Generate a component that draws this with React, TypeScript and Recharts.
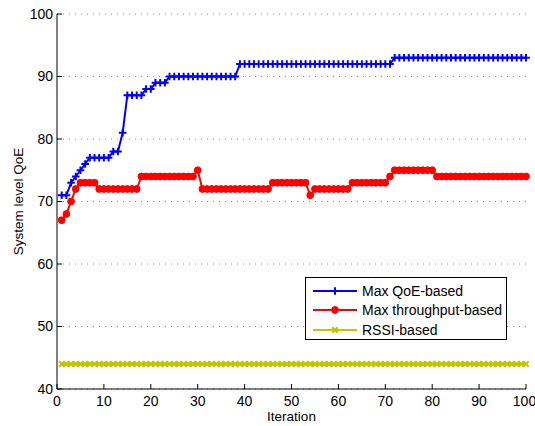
import { CartesianGrid, Legend, Line, LineChart, XAxis, YAxis } from "recharts";

const iterations = [
  1, 2, 3, 4, 5, 6, 7, 8, 9, 10, 11, 12, 13, 14, 15, 16, 17, 18, 19, 20,
  21, 22, 23, 24, 25, 26, 27, 28, 29, 30, 31, 32, 33, 34, 35, 36, 37, 38, 39, 40,
  41, 42, 43, 44, 45, 46, 47, 48, 49, 50, 51, 52, 53, 54, 55, 56, 57, 58, 59, 60,
  61, 62, 63, 64, 65, 66, 67, 68, 69, 70, 71, 72, 73, 74, 75, 76, 77, 78, 79, 80,
  81, 82, 83, 84, 85, 86, 87, 88, 89, 90, 91, 92, 93, 94, 95, 96, 97, 98, 99, 100,
];

const maxQoe = [
  71, 71, 73, 74, 75, 76, 77, 77, 77, 77,
  77, 78, 78, 81, 87, 87, 87, 87, 88, 88,
  89, 89, 89, 90, 90, 90, 90, 90, 90, 90,
  90, 90, 90, 90, 90, 90, 90, 90, 92, 92,
  92, 92, 92, 92, 92, 92, 92, 92, 92, 92,
  92, 92, 92, 92, 92, 92, 92, 92, 92, 92,
  92, 92, 92, 92, 92, 92, 92, 92, 92, 92,
  92, 93, 93, 93, 93, 93, 93, 93, 93, 93,
  93, 93, 93, 93, 93, 93, 93, 93, 93, 93,
  93, 93, 93, 93, 93, 93, 93, 93, 93, 93,
];

const maxThroughput = [
  67, 68, 70, 72, 73, 73, 73, 73, 72, 72,
  72, 72, 72, 72, 72, 72, 72, 74, 74, 74,
  74, 74, 74, 74, 74, 74, 74, 74, 74, 75,
  72, 72, 72, 72, 72, 72, 72, 72, 72, 72,
  72, 72, 72, 72, 72, 73, 73, 73, 73, 73,
  73, 73, 73, 71, 72, 72, 72, 72, 72, 72,
  72, 72, 73, 73, 73, 73, 73, 73, 73, 73,
  74, 75, 75, 75, 75, 75, 75, 75, 75, 75,
  74, 74, 74, 74, 74, 74, 74, 74, 74, 74,
  74, 74, 74, 74, 74, 74, 74, 74, 74, 74,
];

const rssi = [
  44, 44, 44, 44, 44, 44, 44, 44, 44, 44,
  44, 44, 44, 44, 44, 44, 44, 44, 44, 44,
  44, 44, 44, 44, 44, 44, 44, 44, 44, 44,
  44, 44, 44, 44, 44, 44, 44, 44, 44, 44,
  44, 44, 44, 44, 44, 44, 44, 44, 44, 44,
  44, 44, 44, 44, 44, 44, 44, 44, 44, 44,
  44, 44, 44, 44, 44, 44, 44, 44, 44, 44,
  44, 44, 44, 44, 44, 44, 44, 44, 44, 44,
  44, 44, 44, 44, 44, 44, 44, 44, 44, 44,
  44, 44, 44, 44, 44, 44, 44, 44, 44, 44,
];

const xTicks = [0, 10, 20, 30, 40, 50, 60, 70, 80, 90, 100];
const yTicks = [40, 50, 60, 70, 80, 90, 100];

type Marker = "plus" | "circle" | "cross";

const SERIES: { key: string; name: string; color: string; marker: Marker }[] = [
  { key: "qoe", name: "Max QoE-based", color: "#0000ff", marker: "plus" },
  { key: "thr", name: "Max throughput-based", color: "#ff0000", marker: "circle" },
  { key: "rssi", name: "RSSI-based", color: "#c4c400", marker: "cross" },
];

const data = iterations.map((it, i) => ({
  iter: it,
  qoe: maxQoe[i],
  thr: maxThroughput[i],
  rssi: rssi[i],
}));

const FONT = '"Liberation Sans", Arial, Helvetica, sans-serif';

function MarkerShape({ cx, cy, color, marker }: { cx: number; cy: number; color: string; marker: Marker }) {
  if (marker === "plus") {
    const s = 3.8;
    return (
      <path d={`M${cx - s},${cy}H${cx + s}M${cx},${cy - s}V${cy + s}`} stroke={color} strokeWidth={2} fill="none" />
    );
  }
  if (marker === "circle") {
    return <circle cx={cx} cy={cy} r={3.4} fill={color} stroke={color} strokeWidth={1} />;
  }
  const s = 2.7;
  return (
    <path
      d={`M${cx - s},${cy - s}L${cx + s},${cy + s}M${cx - s},${cy + s}L${cx + s},${cy - s}`}
      stroke={color}
      strokeWidth={2}
      fill="none"
    />
  );
}

const dotFor = (color: string, marker: Marker) => (props: any) => (
  <MarkerShape key={`${marker}-${props.index}`} cx={props.cx} cy={props.cy} color={color} marker={marker} />
);

function LegendBox() {
  return (
    <div
      style={{
        width: 202,
        height: 63,
        border: "1px solid #000",
        background: "#fff",
        fontFamily: FONT,
        fontSize: 14,
        color: "#000",
        boxSizing: "border-box",
        paddingTop: 3,
      }}
    >
      {SERIES.map((s) => (
        <div key={s.key} style={{ display: "flex", alignItems: "center", height: 19.5 }}>
          <svg width={56} height={12} style={{ flex: "none" }}>
            <line x1={7} x2={51} y1={6} y2={6} stroke={s.color} strokeWidth={2} />
            <MarkerShape cx={29} cy={6} color={s.color} marker={s.marker} />
          </svg>
          <span style={{ whiteSpace: "nowrap" }}>{s.name}</span>
        </div>
      ))}
    </div>
  );
}

export default function App() {
  return (
    <div style={{ position: "absolute", left: 0, top: 0, width: 535, height: 426, background: "#fff" }}>
      <LineChart width={535} height={426} data={data} margin={{ top: 14, right: 9, left: 0, bottom: 0 }}>
        <CartesianGrid vertical={false} stroke="#8c8c8c" strokeDasharray="1 5" />
        <XAxis
          dataKey="iter"
          type="number"
          domain={[0, 100]}
          ticks={xTicks}
          height={37}
          tickSize={-5}
          tickMargin={12}
          axisLine={{ stroke: "#000" }}
          tickLine={{ stroke: "#000" }}
          tick={{ fill: "#000", fontSize: 14, fontFamily: FONT }}
          label={{
            value: "Iteration",
            position: "insideBottom",
            offset: 5,
            style: { fill: "#000", fontSize: 13.5, fontFamily: FONT },
          }}
        />
        <XAxis
          xAxisId="top"
          orientation="top"
          type="number"
          domain={[0, 100]}
          ticks={xTicks}
          height={0}
          tickSize={-5}
          tick={false}
          axisLine={{ stroke: "#000" }}
          tickLine={{ stroke: "#000" }}
        />
        <YAxis
          type="number"
          domain={[40, 100]}
          ticks={yTicks}
          width={57}
          tickSize={-5}
          tickMargin={9}
          axisLine={{ stroke: "#000" }}
          tickLine={{ stroke: "#000" }}
          tick={{ fill: "#000", fontSize: 14, fontFamily: FONT }}
          label={{
            value: "System level QoE",
            angle: -90,
            position: "insideLeft",
            offset: 18,
            style: { fill: "#000", fontSize: 13.5, fontFamily: FONT, textAnchor: "middle" },
          }}
        />
        <YAxis
          yAxisId="right"
          orientation="right"
          type="number"
          domain={[40, 100]}
          ticks={yTicks}
          width={0}
          tickSize={-5}
          tick={false}
          axisLine={{ stroke: "#000" }}
          tickLine={{ stroke: "#000" }}
        />
        {SERIES.map((s) => (
          <Line
            key={s.key}
            dataKey={s.key}
            name={s.name}
            type="linear"
            stroke={s.color}
            strokeWidth={2}
            dot={dotFor(s.color, s.marker)}
            activeDot={false}
            isAnimationActive={false}
          />
        ))}
        <Legend
          layout="vertical"
          align="center"
          verticalAlign="middle"
          content={() => <LegendBox />}
          wrapperStyle={{ position: "absolute", left: 305, top: 277, width: 202, height: 63 }}
        />
      </LineChart>
    </div>
  );
}
